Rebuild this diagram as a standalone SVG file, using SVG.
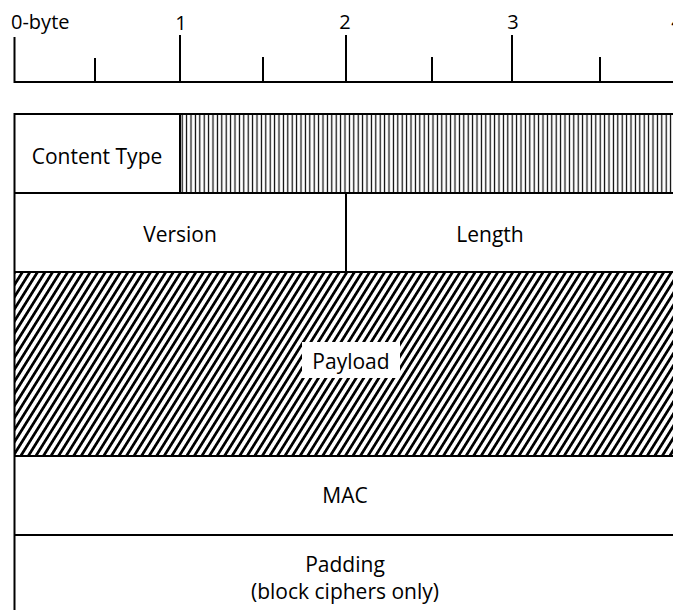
<svg xmlns="http://www.w3.org/2000/svg" width="673" height="610" viewBox="0 0 673 610">
  <style>
    .t { font-family: "Open Sans", "Noto Sans", sans-serif; font-size: 21px; fill: #000; text-anchor: middle; }
    .r { font-family: "Open Sans", "Noto Sans", sans-serif; font-size: 20px; fill: #000; }
    .ln { stroke: #000; stroke-width: 2; fill: none; }
  </style>
  <defs>
    <pattern id="vhatch" patternUnits="userSpaceOnUse" x="180" y="0" width="4.4" height="10">
      <rect width="4.4" height="10" fill="#fff"/>
      <line x1="2.2" y1="0" x2="2.2" y2="10" stroke="#000" stroke-width="1.2"/>
    </pattern>
    <pattern id="dhatch" patternUnits="userSpaceOnUse" width="6.4" height="10" patternTransform="rotate(32)">
      <rect width="6.4" height="10" fill="#fff"/>
      <line x1="3.2" y1="0" x2="3.2" y2="10" stroke="#000" stroke-width="2.7"/>
    </pattern>
  </defs>
  <rect width="673" height="610" fill="#fff"/>

  <g id="ruler">
    <text class="r" x="11" y="29">0-byte</text>
    <text class="r" x="181" y="30" text-anchor="middle">1</text>
    <text class="r" x="345" y="29" text-anchor="middle">2</text>
    <text class="r" x="513" y="29" text-anchor="middle">3</text>
    <text class="r" x="677" y="29" text-anchor="middle">4</text>
    <path class="ln" d="M14.5 82 H680 M14.5 37 V83 M180 35 V82 M346 35 V82 M512 35 V82 M95 58 V82 M263 57 V82 M432 57 V82 M600 57 V82"/>
  </g>

  <g id="content-type">
    <rect x="14.5" y="114" width="165.5" height="79" fill="#fff"/>
    <text class="t" x="97" y="164">Content Type</text>
  </g>
  <g id="reserved">
    <rect x="180" y="114" width="500" height="79" fill="url(#vhatch)"/>
  </g>
  <g id="version">
    <rect x="14.5" y="193" width="331.5" height="79" fill="#fff"/>
    <text class="t" x="180" y="242">Version</text>
  </g>
  <g id="length">
    <rect x="346" y="193" width="334" height="79" fill="#fff"/>
    <text class="t" x="490" y="242">Length</text>
  </g>
  <g id="payload">
    <rect x="14.5" y="272" width="666" height="184" fill="url(#dhatch)"/>
    <rect x="302" y="342" width="98" height="36" fill="#fff"/>
    <text class="t" x="351" y="369">Payload</text>
  </g>
  <g id="mac">
    <rect x="14.5" y="456" width="666" height="79" fill="#fff"/>
    <text class="t" x="345" y="503">MAC</text>
  </g>
  <g id="padding">
    <rect x="14.5" y="535" width="666" height="80" fill="#fff"/>
    <text class="t" x="345" y="572">Padding</text>
    <text class="t" x="345" y="599">(block ciphers only)</text>
  </g>

  <g id="connectors">
    <path class="ln" d="M14.5 114 H680 M14.5 193 H680 M14.5 272 H680 M14.5 456 H680 M14.5 535 H680 M14.5 113 V610 M180 114 V193 M346 193 V272"/>
  </g>
</svg>
